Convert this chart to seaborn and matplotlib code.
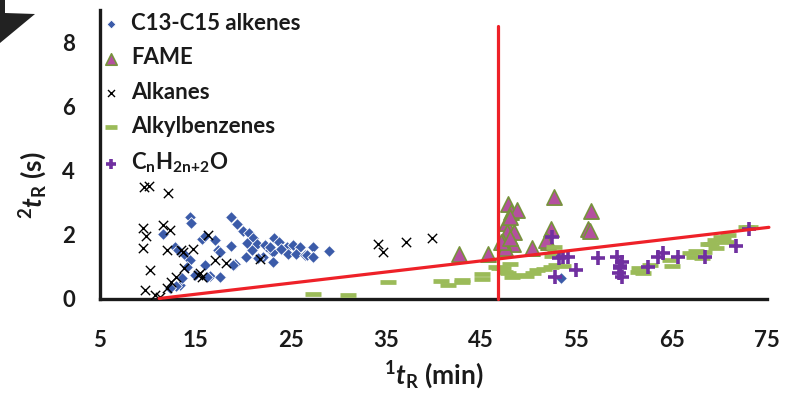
import matplotlib
matplotlib.use("Agg")
import matplotlib.pyplot as plt
import seaborn as sns
import pandas as pd
from matplotlib.patches import Polygon

# ---------------- data ----------------
alkenes_x = [14.4, 14.6, 11.6, 12.9, 13.2, 13.9, 15.7, 16.0, 17.1, 17.4, 17.6, 14.4, 14.1, 16.0,
             16.5, 17.6, 15.0, 13.4, 13.0, 12.3, 13.6, 16.2,
             18.8, 19.4, 20.0, 20.6, 21.1, 20.4, 21.5, 18.8, 20.9, 20.3, 19.2, 19.0, 22.3, 23.3,
             23.8, 22.8, 23.2, 22.1, 23.2, 24.6, 24.7, 25.3, 26.0, 25.6, 26.5, 27.4, 27.4, 29.0,
             26.7, 27.4, 22.8, 24.0, 21.6, 53.4]
alkenes_y = [2.54, 2.35, 2.02, 1.61, 1.50, 1.35, 1.87, 1.95, 1.82, 1.50, 1.45, 1.20, 0.99, 1.04,
             0.70, 0.68, 0.72, 0.42, 0.38, 0.32, 0.63, 0.68,
             2.54, 2.31, 2.10, 2.05, 1.90, 1.73, 1.71, 1.63, 1.50, 1.30, 1.09, 1.04, 1.66, 1.90,
             1.76, 1.51, 1.45, 1.30, 1.14, 1.61, 1.40, 1.66, 1.61, 1.40, 1.35, 1.61, 1.28, 1.47,
             1.35, 1.30, 1.60, 1.55, 1.25, 0.65]

fame_x = [42.7, 45.7, 47.8, 48.1, 48.8, 47.6, 47.7, 48.5, 48.3, 47.3, 47.5, 47.1, 48.0, 50.3,
          52.6, 52.3, 52.0, 51.8, 56.5, 56.2, 56.4, 48.0]
fame_y = [1.38, 1.38, 2.96, 2.70, 2.77, 2.35, 2.07, 2.07, 1.71, 1.76, 1.56, 1.76, 1.90, 1.56,
          3.16, 2.18, 1.76, 1.82, 2.73, 2.18, 2.10, 2.55]

alkanes_x = [9.6, 10.1, 12.1, 11.6, 12.3, 9.5, 9.8, 9.5, 12.0, 13.5, 13.7, 14.8, 10.2, 9.7, 10.8,
             11.3, 16.3, 13.8, 12.5, 13.0, 15.3, 15.7, 15.5, 17.1, 12.0, 18.2, 21.8, 34.2, 34.7,
             37.1, 39.8]
alkanes_y = [3.47, 3.50, 3.30, 2.28, 2.13, 2.20, 1.95, 1.58, 1.50, 1.50, 1.45, 1.53, 0.90, 0.26, 0.10,
             0.05, 1.97, 0.94, 0.52, 0.68, 0.73, 0.68, 0.80, 1.20, 0.32, 1.12, 1.22, 1.71, 1.45,
             1.76, 1.90]

benz_x = [27.4, 31.0, 35.2, 40.8, 41.5, 43.0, 43.0, 45.1, 45.1, 46.6, 47.3, 47.5, 47.8, 48.2,
          49.0, 49.7, 50.4, 50.9, 51.6, 52.3, 52.9, 53.6, 52.6, 52.7, 52.4, 48.0, 46.9,
          61.6, 61.5, 62.0, 62.7, 64.8, 65.0, 66.9, 67.3, 67.6, 68.2, 68.4, 68.8, 69.1, 69.6,
          69.5, 70.2, 70.4, 70.7, 70.9, 72.8, 73.2]
benz_y = [0.15, 0.12, 0.52, 0.54, 0.43, 0.59, 0.50, 0.77, 0.62, 0.97, 0.96, 0.83, 0.78, 0.68,
          0.72, 0.70, 0.80, 0.88, 0.93, 0.99, 1.04, 1.00, 1.61, 1.45, 1.32, 1.09, 0.94,
          0.96, 0.83, 0.78, 1.04, 1.20, 1.02, 1.42, 1.30, 1.48, 1.25, 1.45, 1.71, 1.71, 1.59,
          1.82, 1.92, 1.87, 1.76, 1.97, 2.23, 2.23]

alcohol_x = [52.4, 53.2, 54.1, 55.0, 52.7, 57.3, 59.3, 59.8, 59.6, 59.5, 59.8, 59.6, 62.5, 63.6,
             64.1, 65.7, 68.5, 71.7, 73.1, 53.6]
alcohol_y = [1.92, 1.25, 1.28, 0.88, 0.68, 1.26, 1.28, 1.14, 0.94, 0.80, 0.68, 1.02, 0.98, 1.28,
             1.42, 1.28, 1.28, 1.63, 2.18, 1.30]

vline_x = [46.8, 46.8]
vline_y = [0.0, 8.5]
sline_x = [11.2, 75.2]
sline_y = [0.0, 2.22]

labels = ["C13-C15 alkenes", "FAME", "Alkanes", "Alkylbenzenes",
          r"C$_\mathrm{n}$H$_\mathrm{2n{+}2}$O"]
xticks = [5, 15, 25, 35, 45, 55, 65, 75]
yticks = [0, 2, 4, 6, 8]

# ---------------- style ----------------
sns.set_theme(style="white")
plt.rcParams["font.family"] = ["Lato", "DejaVu Sans"]
plt.rcParams["font.weight"] = "bold"
plt.rcParams["mathtext.fontset"] = "custom"
plt.rcParams["mathtext.rm"] = "Lato:bold"
plt.rcParams["mathtext.it"] = "Lato:bold:italic"
plt.rcParams["mathtext.bf"] = "Lato:bold"

fig = plt.figure(figsize=(7.87, 3.94), dpi=100)
W, H = 787, 394
ax = fig.add_axes([100 / W, 1 - 298.5 / H, 667 / W, 288.5 / H])

blue = "#3B5BA9"
fame_fill = "#B4509F"
fame_edge = "#77933C"
green = "#9BBB59"
purple = "#7030A0"
red = "#EE2128"
ink = "#1a1a1a"

sns.scatterplot(x=alkenes_x, y=alkenes_y, ax=ax, marker="D", s=36, color=blue,
                edgecolor="white", linewidth=0.6, label=labels[0], zorder=3)
sns.scatterplot(x=fame_x, y=fame_y, ax=ax, marker="^", s=120, color=fame_fill,
                edgecolor=fame_edge, linewidth=1.2, label=labels[1], zorder=3)
sns.scatterplot(x=alkanes_x, y=alkanes_y, ax=ax, marker="x", s=45, color="black",
                linewidth=1.0, label=labels[2], zorder=3)
sns.scatterplot(x=benz_x, y=benz_y, ax=ax, marker="_", s=120, color=green,
                edgecolor=green, linewidth=3.4, label=labels[3], zorder=3)
sns.scatterplot(x=alcohol_x, y=alcohol_y, ax=ax, marker="+", s=110, color=purple,
                edgecolor=purple, linewidth=2.6, label=labels[4], zorder=3)

sns.lineplot(x=vline_x, y=vline_y, ax=ax, color=red, linewidth=2.3, zorder=5, clip_on=False,
             estimator=None, sort=False)
sns.lineplot(x=sline_x, y=sline_y, ax=ax, color=red, linewidth=2.3, zorder=5, clip_on=False,
             estimator=None, sort=False)

ax.set_xlim(5, 75)
ax.set_ylim(0, 9)
ax.set_xticks(xticks)
ax.set_yticks(yticks)
ax.set_xticklabels([str(v) for v in xticks], fontsize=16, fontweight="bold")
ax.set_yticklabels([str(v) for v in yticks], fontsize=16, fontweight="bold")

for side in ["top", "right"]:
    ax.spines[side].set_visible(False)
for side in ["left", "bottom"]:
    ax.spines[side].set_linewidth(2.4)
    ax.spines[side].set_color(ink)
ax.tick_params(axis="x", direction="out", length=6, width=2.4, pad=17, colors=ink)
ax.tick_params(axis="y", direction="out", length=6, width=2.4, pad=12, colors=ink)

ax.set_xlabel(r"$^{1}\mathit{t}_{\mathrm{R}}$ (min)", fontsize=19, fontweight="bold", color=ink)
ax.set_ylabel(r"$^{2}\mathit{t}_{\mathrm{R}}$ (s)", fontsize=19, fontweight="bold", color=ink)
ax.xaxis.set_label_coords(0.5, -0.21)
ax.yaxis.label.set_verticalalignment("center")
ax.yaxis.label.set_horizontalalignment("center")
ax.yaxis.set_label_coords(-0.1, 0.393)

leg = ax.legend(loc="upper left", bbox_to_anchor=(-0.012, 1.02), frameon=False,
                fontsize=16, handlelength=0.9, handletextpad=0.45, labelspacing=0.6,
                borderaxespad=0, markerscale=0.75)
for t in leg.get_texts():
    t.set_fontweight("bold")
    t.set_color(ink)

# dark corner graphic at top-left
fig.patches.append(Polygon([[0 / W, 1], [5 / W, 1], [5 / W, 1 - 13 / H], [35 / W, 1 - 14 / H],
                            [0, 1 - 43 / H]], closed=True, transform=fig.transFigure,
                           facecolor="#222222", edgecolor="none"))

fig.savefig("out.png", dpi=100)
